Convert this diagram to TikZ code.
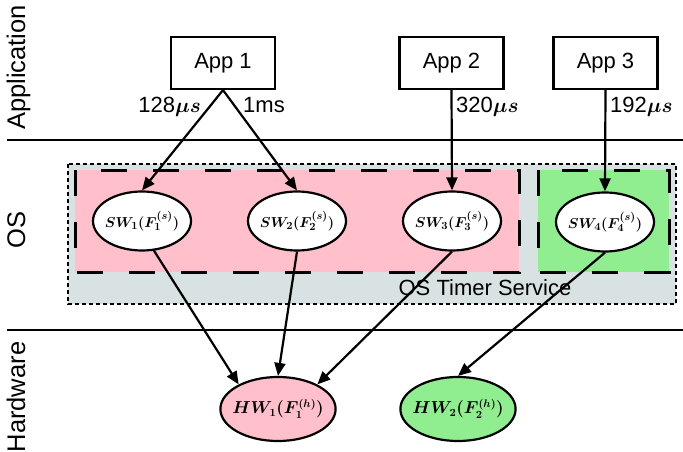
\documentclass[tikz,border=0pt]{standalone}
\usepackage{fontspec}
\setmainfont{Liberation Sans}
\usetikzlibrary{arrows.meta,shapes.geometric}
\definecolor{pinkfill}{RGB}{255,192,203}
\definecolor{greenfill}{RGB}{144,238,144}
\definecolor{grayfill}{RGB}{216,226,226}
\begin{document}
\begin{tikzpicture}[x=1pt,y=-1pt,
  appbox/.style={draw,line width=2.2pt,minimum width=104pt,minimum height=52pt,inner sep=0pt,font=\fontsize{22}{26}\selectfont},
  swnode/.style={ellipse,draw,line width=2.2pt,fill=white,minimum width=98pt,minimum height=59pt,inner xsep=-5pt,inner ysep=0pt,font=\fontsize{15.5}{18}\selectfont\boldmath},
  hwnode/.style={ellipse,draw,line width=2.2pt,minimum width=111pt,minimum height=64pt,inner xsep=-5pt,inner ysep=0pt,font=\fontsize{16}{19}\selectfont\boldmath},
  layerlabel/.style={rotate=90,anchor=base,inner sep=0pt,font=\fontsize{25.5}{30}\selectfont},
  ratelabel/.style={inner sep=0pt,font=\fontsize{22}{26}\selectfont\boldmath},
  link/.style={line width=2.2pt,-{Triangle[length=13pt,width=11pt]}},
  sepline/.style={line width=2.2pt},
  outerbox/.style={fill=grayfill,draw,line width=2.2pt,dash pattern=on 4pt off 3pt},
  groupbox/.style={draw,line width=3pt,dash pattern=on 26pt off 26pt}]
\useasboundingbox (0,0) rectangle (683,452);

% layer separators
\coordinate (s1a) at (7,140);
\coordinate (s1b) at (683,140);
\coordinate (s2a) at (7,330);
\coordinate (s2b) at (683,330);
\draw[sepline] (s1a) -- (s1b);
\draw[sepline] (s2a) -- (s2b);

% layer labels
\node[layerlabel] (lapp) at (25,67.5) {Application};
\node[layerlabel] (los) at (25,230) {OS};
\node[layerlabel] (lhw) at (25,397) {Hardware};

% OS timer service area
\draw[outerbox] (68,164) rectangle (676,304);
\fill[pinkfill] (75,170) rectangle (519,272);
\draw[groupbox] (75,170) rectangle (519,272);
\fill[greenfill] (538,170) rectangle (669,272);
\draw[groupbox] (538,170) rectangle (669,272);
\node[inner sep=0pt,font=\fontsize{22}{26}\selectfont,anchor=base] (ostimer) at (485,295) {OS Timer Service};

% applications
\node[appbox] (app1) at (223,63) {App 1};
\node[appbox] (app2) at (451.5,63) {App 2};
\node[appbox] (app3) at (605.5,63) {App 3};

% software timers
\node[swnode] (sw1) at (142,221) {$SW_1(F_1^{(s)})$};
\node[swnode] (sw2) at (297,221) {$SW_2(F_2^{(s)})$};
\node[swnode] (sw3) at (452,221) {$SW_3(F_3^{(s)})$};
\node[swnode] (sw4) at (605,222) {$SW_4(F_4^{(s)})$};

% hardware timers
\node[hwnode,fill=pinkfill] (hw1) at (278,409) {$HW_1(F_1^{(h)})$};
\node[hwnode,fill=greenfill] (hw2) at (458,409) {$HW_2(F_2^{(h)})$};

% rate labels
\node[ratelabel,anchor=base east] (r1) at (201,113) {128$\mu s$};
\node[ratelabel,anchor=base west] (r2) at (243,113) {1ms};
\node[ratelabel,anchor=base west] (r3) at (456,113) {320$\mu s$};
\node[ratelabel,anchor=base west] (r4) at (610,113) {192$\mu s$};

% connectors
\draw[link] (app1.south) -- (sw1.north);
\draw[link] (app1.south) -- (sw2.north);
\draw[link] (app2.south) -- (sw3.north);
\draw[link] (app3.south) -- (sw4.north);
\draw[link] (sw1.-68) -- (hw1.148);
\draw[link] (sw2.south) -- (hw1.north);
\draw[link] (sw3.south) -- (hw1.32);
\draw[link] (sw4.south) -- (hw2.north);
\end{tikzpicture}
\end{document}
